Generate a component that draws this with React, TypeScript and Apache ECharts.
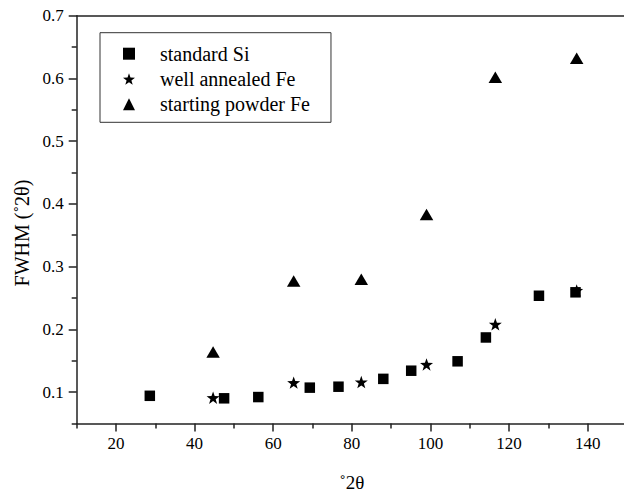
import React, { useEffect, useRef } from 'react';
import * as echarts from 'echarts';

// standard Si
const siX = [28.6, 47.5, 56.2, 69.3, 76.6, 88.0, 95.1, 106.9, 114.1, 127.6, 136.9];
const siY = [0.094, 0.090, 0.092, 0.107, 0.1085, 0.121, 0.134, 0.149, 0.187, 0.2535, 0.259];
// Fe peaks
const feX = [44.7, 65.2, 82.4, 99.0, 116.5, 137.2];
const annealedY = [0.091, 0.115, 0.116, 0.144, 0.208, 0.262];
const powderY = [0.164, 0.277, 0.280, 0.383, 0.602, 0.632];

const seriesNames = ['standard Si', 'well annealed Fe', 'starting powder Fe'];
const xMajor = [20, 40, 60, 80, 100, 120, 140];
const xMinor = [10, 30, 50, 70, 90, 110, 130, 150];
const yMajor = [0.1, 0.2, 0.3, 0.4, 0.5, 0.6, 0.7];
const yMinor = [0.05, 0.15, 0.25, 0.35, 0.45, 0.55, 0.65];
const xTitle = '˚2θ';
const yTitle = 'FWHM (˚2θ)';

const STAR = 'path://M0,-10 L2.35,-3.24 L9.51,-3.09 L3.8,1.24 L5.88,8.09 L0,4 L-5.88,8.09 L-3.8,1.24 L-9.51,-3.09 L-2.35,-3.24 Z';
const FONT = 'Liberation Serif, Times New Roman, serif';

export default function App() {
  const ref = useRef<HTMLDivElement>(null);
  useEffect(() => {
    if (!ref.current) return;
    const chart = echarts.init(ref.current, undefined, { renderer: 'svg' });
    const lineStyle = { color: '#222', width: 1.5 };
    const zip = (xs: number[], ys: number[]) => xs.map((x, i) => [x, ys[i]]);
    const item = { color: '#000', opacity: 1 };
    chart.setOption({
      animation: false,
      textStyle: { fontFamily: FONT },
      grid: { left: 76.7, top: 15.7, right: -3, bottom: 70.6, containLabel: false, outerBoundsMode: 'none' },
      legend: {
        orient: 'vertical',
        left: 100,
        top: 32.7,
        padding: [11, 21, 8, 23],
        itemWidth: 12,
        itemHeight: 12,
        itemGap: 5.3,
        borderColor: '#333',
        borderWidth: 1,
        data: seriesNames,
        textStyle: { fontFamily: FONT, fontSize: 20, color: '#000', padding: [0, 0, 0, 20] },
      },
      xAxis: [
        {
          type: 'value', min: 10, max: 150, position: 'bottom',
          name: xTitle, nameLocation: 'middle', nameGap: 50,
          nameTextStyle: { fontFamily: FONT, fontSize: 19, color: '#000' },
          axisLine: { show: true, lineStyle },
          axisTick: { show: true, length: 8, lineStyle, customValues: xMajor },
          axisLabel: { fontFamily: FONT, fontSize: 17, color: '#000', margin: 12, customValues: xMajor },
          splitLine: { show: false },
        },
        {
          type: 'value', min: 10, max: 150, position: 'bottom',
          axisLine: { show: false },
          axisTick: { show: true, length: 5, lineStyle, customValues: xMinor },
          axisLabel: { show: false },
          splitLine: { show: false },
        },
        {
          type: 'value', min: 10, max: 150, position: 'top',
          axisLine: { show: true, lineStyle },
          axisTick: { show: false },
          axisLabel: { show: false },
          splitLine: { show: false },
        },
      ],
      yAxis: [
        {
          type: 'value', min: 0.05, max: 0.7, position: 'left',
          name: yTitle, nameLocation: 'middle', nameGap: 45,
          nameTextStyle: { fontFamily: FONT, fontSize: 20, color: '#000', padding: [0, 27, 0, 0] },
          axisLine: { show: true, lineStyle },
          axisTick: { show: true, length: 8, lineStyle, customValues: yMajor },
          axisLabel: {
            fontFamily: FONT, fontSize: 17, color: '#000', margin: 13, customValues: yMajor,
            formatter: (v: number) => v.toFixed(1),
          },
          splitLine: { show: false },
        },
        {
          type: 'value', min: 0.05, max: 0.7, position: 'left',
          axisLine: { show: false },
          axisTick: { show: true, length: 5, lineStyle, customValues: yMinor },
          axisLabel: { show: false },
          splitLine: { show: false },
        },
      ],
      series: [
        {
          name: seriesNames[0], type: 'scatter', symbol: 'rect', symbolSize: 10.5,
          itemStyle: item, data: zip(siX, siY),
        },
        {
          name: seriesNames[1], type: 'scatter', symbol: STAR, symbolSize: [13, 12.4],
          itemStyle: item, data: zip(feX, annealedY),
        },
        {
          name: seriesNames[2], type: 'scatter', symbol: 'triangle', symbolSize: [13.5, 11.5],
          itemStyle: item, data: zip(feX, powderY),
        },
      ],
    });
    return () => chart.dispose();
  }, []);
  return <div ref={ref} style={{ position: 'absolute', left: 0, top: 0, width: 624, height: 494 }} />;
}
